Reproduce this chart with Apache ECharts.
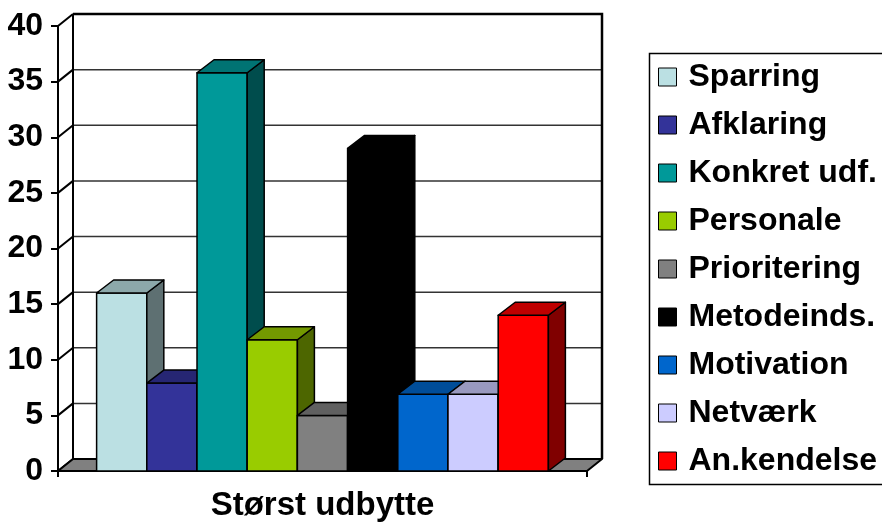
<!DOCTYPE html>
<html>
<head>
<meta charset="utf-8">
<script src="https://cdn.jsdelivr.net/npm/echarts@6/dist/echarts.min.js"></script>
<style>
  html, body { margin: 0; padding: 0; background: #ffffff; }
  #chart { width: 882px; height: 522px; }
</style>
</head>
<body>
<div id="chart"></div>
<script>
// Data
const categories = ['Størst udbytte'];
const seriesNames = ['Sparring', 'Afklaring', 'Konkret udf.', 'Personale', 'Prioritering',
                     'Metodeinds.', 'Motivation', 'Netværk', 'An.kendelse'];
const seriesValues = [16, 7.9, 35.8, 11.8, 5, 29, 6.9, 6.9, 14];
const frontColors = ['#BBE0E3', '#333399', '#009999', '#99CC00', '#808080',
                     '#000000', '#0066CC', '#CCCCFF', '#FF0000'];
const yTicks = [0, 5, 10, 15, 20, 25, 30, 35, 40];

// 3D look: depth offsets of the back wall and of the columns
const WALL_DX = 15, WALL_DY = -12;
const BAR_DX = 17, BAR_DY = -13;
const BAR_SPAN = 0.854;           // share of the category band used by the columns
const FONT = '"Liberation Sans", Arial, sans-serif';

function shade(hex, f) {
  const n = parseInt(hex.slice(1), 16);
  const r = Math.round(((n >> 16) & 255) * f);
  const g = Math.round(((n >> 8) & 255) * f);
  const b = Math.round((n & 255) * f);
  return 'rgb(' + r + ',' + g + ',' + b + ')';
}

// Back wall, gridlines, depth connectors and floor
function renderFrame(params, api) {
  const c0 = api.coord([0, 0]);
  const band = api.size([1, 0])[0];
  const xl = c0[0] - band / 2, xr = c0[0] + band / 2;
  const y0 = c0[1];
  const yTop = api.coord([0, yTicks[yTicks.length - 1]])[1];
  const children = [];
  yTicks.forEach(function (t, k) {
    const y = api.coord([0, t])[1];
    if (k > 0 && k < yTicks.length - 1) {
      children.push({ type: 'line',
        shape: { x1: xl + WALL_DX, y1: y + WALL_DY, x2: xr + WALL_DX, y2: y + WALL_DY },
        style: { stroke: '#333333', lineWidth: 1.5 } });
    }
    children.push({ type: 'line',
      shape: { x1: xl, y1: y, x2: xl + WALL_DX, y2: y + WALL_DY },
      style: { stroke: '#000', lineWidth: 2 } });
  });
  // wall outline
  children.push({ type: 'line',
    shape: { x1: xl + WALL_DX, y1: y0 + WALL_DY, x2: xl + WALL_DX, y2: yTop + WALL_DY },
    style: { stroke: '#000', lineWidth: 2 } });
  children.push({ type: 'polyline',
    shape: { points: [[xl + WALL_DX, yTop + WALL_DY], [xr + WALL_DX, yTop + WALL_DY], [xr + WALL_DX, y0 + WALL_DY]] },
    style: { stroke: '#000', lineWidth: 2.5, fill: null } });
  // floor
  children.push({ type: 'polygon',
    shape: { points: [[xl, y0], [xr, y0], [xr + WALL_DX, y0 + WALL_DY], [xl + WALL_DX, y0 + WALL_DY]] },
    style: { fill: '#808080', stroke: '#000', lineWidth: 2, lineJoin: 'round' } });
  return { type: 'group', children: children };
}

function makeBarRenderer(i) {
  return function (params, api) {
    const base = api.coord([api.value(0), 0]);
    const top = api.coord([api.value(0), api.value(1)]);
    const band = api.size([1, 0])[0];
    const total = band * BAR_SPAN;
    const w = total / seriesNames.length;
    const x0 = base[0] - total / 2 + i * w, x1 = x0 + w;
    const yb = base[1], yt = top[1];
    const col = frontColors[i];
    const edge = { stroke: '#000', lineWidth: 1.5, lineJoin: 'round' };
    return { type: 'group', children: [
      { type: 'polygon',
        shape: { points: [[x0, yb], [x1, yb], [x1, yt], [x0, yt]] },
        style: Object.assign({ fill: col }, edge) },
      { type: 'polygon',
        shape: { points: [[x1, yb], [x1 + BAR_DX, yb + BAR_DY], [x1 + BAR_DX, yt + BAR_DY], [x1, yt]] },
        style: Object.assign({ fill: shade(col, 0.5) }, edge) },
      { type: 'polygon',
        shape: { points: [[x0, yt], [x1, yt], [x1 + BAR_DX, yt + BAR_DY], [x0 + BAR_DX, yt + BAR_DY]] },
        style: Object.assign({ fill: shade(col, 0.75) }, edge) }
    ] };
  };
}

const series = [{
  type: 'custom', name: '__frame', silent: true, clip: false, z: 1,
  renderItem: renderFrame,
  data: [[0, 0]],
  encode: { x: 0, y: 1 }
}];
seriesNames.forEach(function (name, i) {
  series.push({
    type: 'custom', name: name, clip: false, z: 3,
    itemStyle: { color: frontColors[i], borderColor: '#000', borderWidth: 1 },
    renderItem: makeBarRenderer(i),
    data: [[0, seriesValues[i]]],
    encode: { x: 0, y: 1 }
  });
});

const chart = echarts.init(document.getElementById('chart'), null, { renderer: 'canvas' });
chart.setOption({
  backgroundColor: '#ffffff',
  animation: false,
  grid: { left: 58, right: 295, top: 26, bottom: 51, containLabel: false },
  xAxis: {
    type: 'category', data: categories, boundaryGap: true,
    axisLine: { show: true, lineStyle: { color: '#000', width: 2 } },
    axisTick: { show: true, length: 6, lineStyle: { color: '#000', width: 2 } },
    axisLabel: { margin: 18, color: '#000', fontSize: 33, fontWeight: 'bold', fontFamily: FONT },
    splitLine: { show: false }
  },
  yAxis: {
    type: 'value', min: 0, max: 40, interval: 5,
    axisLine: { show: true, lineStyle: { color: '#000', width: 2 } },
    axisTick: { show: true, length: 7, lineStyle: { color: '#000', width: 2 } },
    axisLabel: { margin: 15, color: '#000', fontSize: 32, fontWeight: 'bold', fontFamily: FONT },
    splitLine: { show: false }
  },
  legend: {
    data: seriesNames,
    orient: 'vertical',
    left: 658, top: 61,
    padding: 0,
    icon: 'rect',
    itemWidth: 18, itemHeight: 18,
    itemGap: 16,
    itemStyle: { borderColor: '#000', borderWidth: 1 },
    textStyle: { color: '#000', fontSize: 32, fontWeight: 'bold', fontFamily: FONT,
                 lineHeight: 32, padding: [0, 0, 0, 7] },
    selectedMode: false
  },
  graphic: [{
    type: 'rect', left: 647, top: 51, silent: true,
    shape: { width: 234, height: 431 },
    style: { fill: null, stroke: '#000', lineWidth: 1.5 }
  }],
  series: series
});
</script>
</body>
</html>
